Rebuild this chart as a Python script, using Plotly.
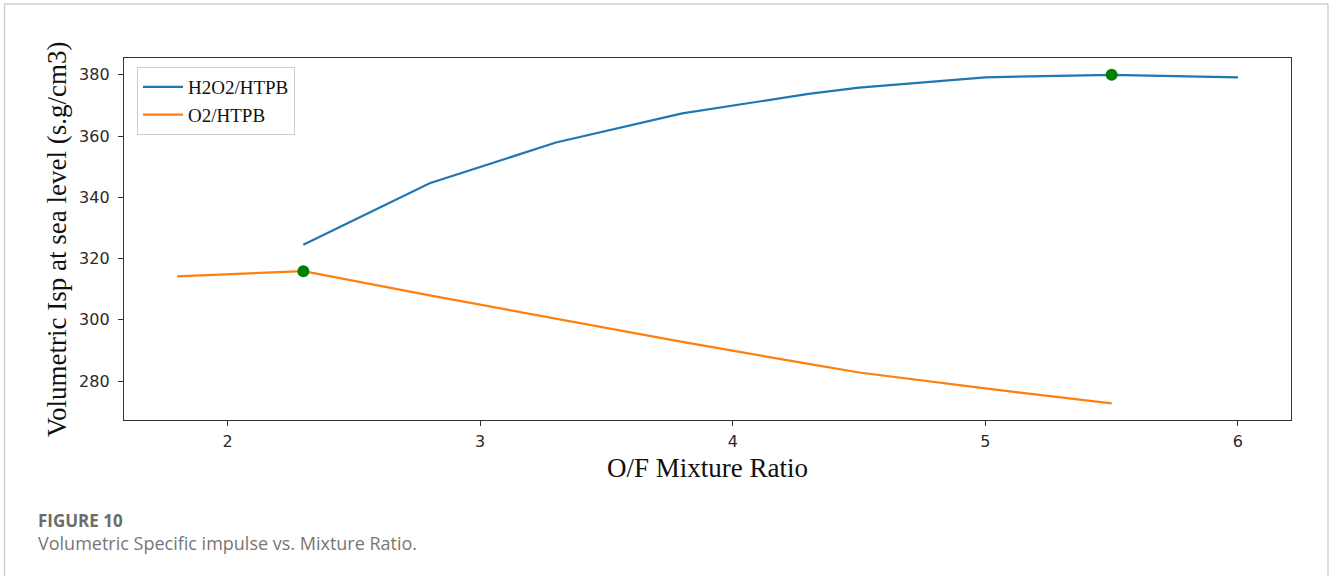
import plotly.graph_objects as go

# O/F mixture ratio sweep and volumetric Isp at sea level (s.g/cm3)
h2o2_of = [2.3, 2.8, 3.3, 3.8, 4.3, 4.5, 5.0, 5.5, 6.0]
h2o2_isp = [324.5, 344.6, 357.9, 367.4, 373.8, 375.8, 379.2, 380.0, 379.2]

o2_of = [1.8, 2.3, 2.8, 3.3, 3.8, 4.3, 4.5, 5.0, 5.5]
o2_isp = [314.2, 315.9, 308.0, 300.4, 292.8, 285.6, 282.8, 277.6, 272.7]

# optimum points
best_of = [2.3, 5.5]
best_isp = [315.9, 380.0]

x_ticks = [2, 3, 4, 5, 6]
y_ticks = [280, 300, 320, 340, 360, 380]

W, H = 1330, 576
SERIF = "Liberation Serif, Times New Roman, serif"
SANS = "DejaVu Sans, sans-serif"

fig = go.Figure()
fig.add_trace(go.Scatter(x=h2o2_of, y=h2o2_isp, mode="lines", name="H2O2/HTPB",
                         line=dict(color="#1f77b4", width=2.2)))
fig.add_trace(go.Scatter(x=o2_of, y=o2_isp, mode="lines", name="O2/HTPB",
                         line=dict(color="#ff7f0e", width=2.2)))
fig.add_trace(go.Scatter(x=best_of, y=best_isp, mode="markers", showlegend=False,
                         marker=dict(color="#008000", size=12, line=dict(width=0))))

px_x = lambda p: p / W
px_y = lambda p: 1 - p / H

axis_common = dict(
    showgrid=False, zeroline=False, showline=True, mirror=True,
    linecolor="#333333", linewidth=1.3,
    ticks="outside", ticklen=5, tickwidth=1.2, tickcolor="#333333",
    tickfont=dict(family=SANS, size=16, color="#2a2a2a"),
)

fig.update_layout(
    width=W, height=H,
    margin=dict(l=0, r=0, t=0, b=0),
    paper_bgcolor="white", plot_bgcolor="white",
    xaxis=dict(domain=[px_x(124), px_x(1291)], range=[1.59, 6.21],
               tickvals=x_ticks, ticklabelstandoff=2, **axis_common),
    yaxis=dict(domain=[px_y(420), px_y(58)], range=[267.3, 385.5],
               tickvals=y_ticks, ticklabelstandoff=5, **axis_common),
    legend=dict(x=px_x(137), y=px_y(67), xanchor="left", yanchor="top",
                bgcolor="white", bordercolor="#cccccc", borderwidth=1,
                font=dict(family=SERIF, size=19, color="#111111"),
                tracegroupgap=2, itemwidth=40),
    showlegend=True,
)

# axis titles
fig.add_annotation(x=px_x(707), y=px_y(468), xref="paper", yref="paper",
                   xanchor="center", yanchor="middle",
                   text="O/F Mixture Ratio", showarrow=False,
                   font=dict(family=SERIF, size=27, color="#111111"))
fig.add_annotation(x=px_x(57), y=px_y(240), xref="paper", yref="paper",
                   xanchor="center", yanchor="middle",
                   text="Volumetric Isp at sea level (s.g/cm3)", showarrow=False,
                   textangle=-90,
                   font=dict(family=SERIF, size=27, color="#111111"))

# caption below the chart
fig.add_annotation(x=px_x(36), y=px_y(520), xref="paper", yref="paper",
                   xanchor="left", yanchor="middle", showarrow=False,
                   text="<b>FIGURE 10</b>",
                   font=dict(family="Open Sans, sans-serif", size=17, color="#6b6b6b"))
fig.add_annotation(x=px_x(36), y=px_y(543), xref="paper", yref="paper",
                   xanchor="left", yanchor="middle", showarrow=False,
                   text="Volumetric Specific impulse vs. Mixture Ratio.",
                   font=dict(family="Open Sans, sans-serif", size=18, color="#777777"))

# card frame
frame = dict(xref="paper", yref="paper", line=dict(color="#cfcfcf", width=1.5))
fig.add_shape(type="line", x0=px_x(4), x1=px_x(1328), y0=px_y(4), y1=px_y(4), **frame)
fig.add_shape(type="line", x0=px_x(4.5), x1=px_x(4.5), y0=px_y(4), y1=0, **frame)
fig.add_shape(type="line", x0=px_x(1328), x1=px_x(1328), y0=px_y(4), y1=0, **frame)

fig.write_html("out.html")
